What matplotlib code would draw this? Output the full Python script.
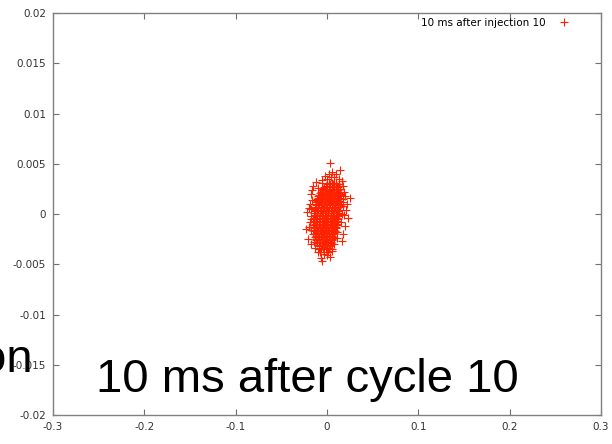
import numpy as np
import matplotlib
matplotlib.use("Agg")
import matplotlib.pyplot as plt
from matplotlib.ticker import FormatStrFormatter, MultipleLocator

# --- Data (x in 1e-3, y in 1e-4) ---
# dense core, rows of points
core_rows_y = [31, 28, 25, 22, 19, 16, 13, 10, 7, 4, 1, -2, -5, -8, -11,
               -14, -17, -20, -23, -26, -29, -32, -35]
core_rows_x = [
    [2, 5, 8],
    [-1, 2, 5, 8, 11],
    [-4, -1, 2, 5, 8, 11, 14],
    [-7, -4, -1, 2, 5, 8, 11, 14],
    [-9, -6, -3, 0, 3, 6, 9, 12, 15],
    [-10, -7, -4, -1, 2, 5, 8, 11, 14],
    [-11, -8, -5, -2, 1, 4, 7, 10, 13],
    [-12, -9, -6, -3, 0, 3, 6, 9, 12, 15],
    [-13, -10, -7, -4, -1, 2, 5, 8, 11, 14],
    [-13, -10, -7, -4, -1, 2, 5, 8, 11, 13],
    [-14, -11, -8, -5, -2, 1, 4, 7, 10, 13],
    [-14, -11, -8, -5, -2, 1, 4, 7, 10, 12],
    [-15, -12, -9, -6, -3, 0, 3, 6, 9, 12],
    [-14, -11, -8, -5, -2, 1, 4, 7, 10, 12],
    [-15, -12, -9, -6, -3, 0, 3, 6, 9, 11],
    [-14, -11, -8, -5, -2, 1, 4, 7, 10],
    [-14, -11, -8, -5, -2, 1, 4, 7, 9],
    [-13, -10, -7, -4, -1, 2, 5, 8],
    [-13, -10, -7, -4, -1, 2, 5, 7],
    [-12, -9, -6, -3, 0, 3, 6],
    [-11, -8, -5, -2, 1, 4],
    [-9, -6, -3, 0, 3],
    [-7, -4, -1, 2],
]
# in-between rows of the core
mid_rows_y = [29.5, 26.5, 23.5, 20.5, 17.5, 14.5, 11.5, 8.5, 5.5, 2.5, -0.5,
              -3.5, -6.5, -9.5, -12.5, -15.5, -18.5, -21.5, -24.5, -27.5,
              -30.5, -33.5]
mid_rows_x = [
    [0, 3.5, 6.5, 9.5],
    [-3, 0.5, 3.5, 6.5, 9.5, 12.5],
    [-5.5, -2.5, 0.5, 3.5, 6.5, 9.5, 12.5],
    [-8, -5, -2, 1, 4, 7, 10, 13],
    [-9.5, -6.5, -3.5, -0.5, 2.5, 5.5, 8.5, 11.5, 14],
    [-10.5, -7.5, -4.5, -1.5, 1.5, 4.5, 7.5, 10.5, 13.5],
    [-11.5, -8.5, -5.5, -2.5, 0.5, 3.5, 6.5, 9.5, 12.5, 14.5],
    [-12.5, -9.5, -6.5, -3.5, -0.5, 2.5, 5.5, 8.5, 11.5, 14],
    [-12.5, -9.5, -6.5, -3.5, -0.5, 2.5, 5.5, 8.5, 11.5],
    [-13.5, -10.5, -7.5, -4.5, -1.5, 1.5, 4.5, 7.5, 10.5, 12.5],
    [-13.5, -10.5, -7.5, -4.5, -1.5, 1.5, 4.5, 7.5, 10.5],
    [-14, -11.5, -8.5, -5.5, -2.5, 0.5, 3.5, 6.5, 9.5, 11.5],
    [-14, -10.5, -7.5, -4.5, -1.5, 1.5, 4.5, 7.5, 10.5],
    [-13.5, -10.5, -7.5, -4.5, -1.5, 1.5, 4.5, 7.5, 10.5],
    [-13.5, -10.5, -7.5, -4.5, -1.5, 1.5, 4.5, 7.5, 10],
    [-13, -10, -7, -4, -1, 2, 5, 8],
    [-12.5, -9.5, -6.5, -3.5, -0.5, 2.5, 5.5, 8],
    [-12, -9, -6, -3, 0, 3, 6],
    [-11.5, -8.5, -5.5, -2.5, 0.5, 3.5, 6],
    [-10.5, -7.5, -4.5, -1.5, 1.5, 4.5],
    [-8.5, -5.5, -2.5, 0.5, 3],
    [-6.5, -3.5, -0.5, 2.5],
]

# scattered outliers round the core
halo_x = [3, 14, 6, 10, -2, 8, 13, -5, 16, 0,
          -22, -20, -23, -19, -17, -21, -18, -15, -12,
          25, 21, 23, 19, 18, 22, 17, 16, 20,
          -7, 3, -3, -10, 5, -13, -5, 1, 8,
          -17, -18, 17, 16, 15, -16, 12, -10, 10, -6, -15, 11, -8, 0, 6, 13, 2, 17, -19,
          -18, 18, -16, 19, -20, 14, -9, 4, 11, -14, 20, -17]
halo_y = [51, 44, 42, 40, 38, 37, 35, 34, 33, 35,
          2, -13, -15, 10, 20, -25, -30, 28, 32,
          16, 4, -4, 22, 28, 10, -20, -27, -12,
          -44, -43, -40, -38, -37, -34, -47, -38, -30,
          5, -5, 8, 0, -8, 14, 25, 26, 31, 31, -20, -18, -38, -41, -35, 30, 40, 15, -8,
          -2, 12, 24, -1, 6, 20, -35, 37, -24, -28, 18, -16]

core_x = [v for row in core_rows_x + mid_rows_x for v in row]
core_y = [yy for yy, row in zip(core_rows_y + mid_rows_y, core_rows_x + mid_rows_x)
          for _ in row]

x = np.array(core_x + halo_x) * 1e-3
y = np.array(core_y + halo_y) * 1e-4

label = "10 ms after injection 10"

# --- Plot ---
plt.rcParams['font.family'] = ['DejaVu Sans']
fig = plt.figure(figsize=(6.12, 4.44), dpi=100)
ax = fig.add_axes([0.0866, 0.0653, 0.8954, 0.9054])

ax.plot(x, y, linestyle='none', marker='+', color='#ff2200',
        markersize=5.5, markeredgewidth=0.8, label=label)

ax.set_xlim(-0.3, 0.3)
ax.set_ylim(-0.02, 0.02)
ax.xaxis.set_major_locator(MultipleLocator(0.1))
ax.yaxis.set_major_locator(MultipleLocator(0.005))
ax.xaxis.set_major_formatter(FormatStrFormatter('%g'))
ax.yaxis.set_major_formatter(FormatStrFormatter('%g'))
ax.tick_params(direction='in', length=4, width=0.8, color='#707070',
               labelsize=7.5, labelcolor='#333333', top=True, right=True, pad=5)
for s in ax.spines.values():
    s.set_color('#808080')
    s.set_linewidth(1.0)

leg = ax.legend(loc='upper right', bbox_to_anchor=(0.96, 0.998), frameon=False,
                markerfirst=False, fontsize=7.5, handlelength=2.0,
                handletextpad=0.8, borderaxespad=0.0)

# overlaid slide text
big = ['Liberation Sans', 'DejaVu Sans']
fig.text(96 / 612, 1 - 392 / 444, "10 ms after cycle 10", fontsize=34,
         family=big, ha='left', va='baseline', color='black')
fig.text(33 / 612, 1 - 372 / 444, "on", fontsize=34,
         family=big, ha='right', va='baseline', color='black')

fig.savefig("out.png", dpi=100)
